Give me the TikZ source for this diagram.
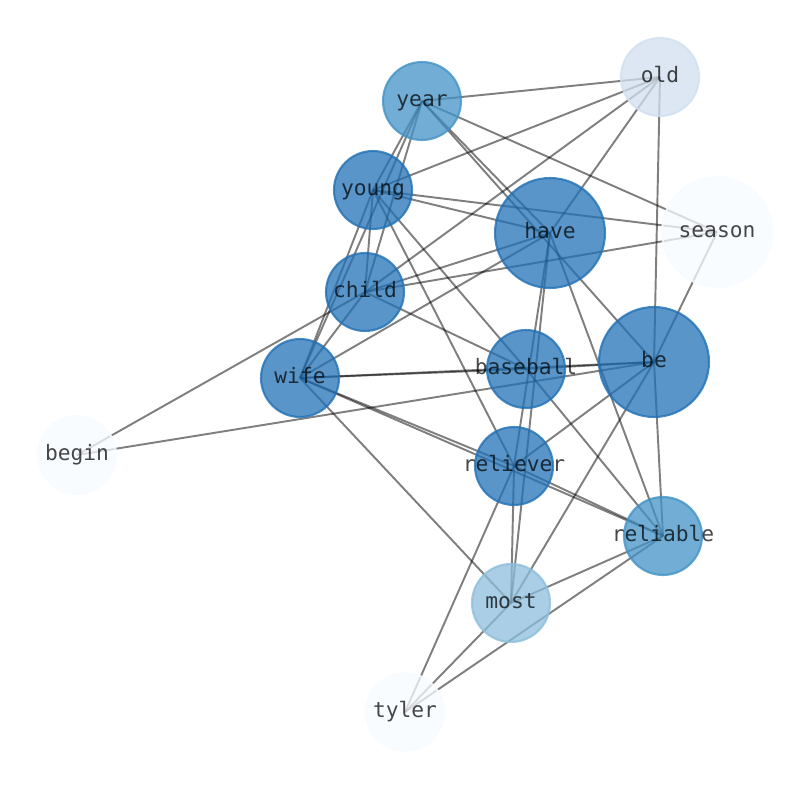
\documentclass[tikz,border=0pt]{standalone}
\usepackage{fontspec}
\setmonofont{DejaVu Sans Mono}
\usetikzlibrary{backgrounds}

\definecolor{darkBlue}{RGB}{33,113,181}
\definecolor{midBlue}{RGB}{66,146,198}
\definecolor{lightBlue}{RGB}{140,190,220}
\definecolor{paleBlue}{RGB}{208,223,239}
\definecolor{whiteBlue}{RGB}{247,251,255}

\tikzset{
  word/.style={circle, draw=#1, fill=#1, draw opacity=0.8, fill opacity=0.75,
    text=black, text opacity=0.72, line width=1.2pt, inner sep=0pt,
    minimum size=1.56cm, text height=0.84em, text depth=0.24em,
    execute at begin node={\hbox to 0pt\bgroup\hss},
    execute at end node={\hss\egroup},
    font=\ttfamily\fontsize{12.1}{14}\selectfont},
  bigword/.style={word=#1, minimum size=2.2cm},
  link/.style={draw=black, draw opacity=0.5, line width=1.1pt}
}

\begin{document}
\begin{tikzpicture}[x=0.02cm, y=-0.02cm]
  \useasboundingbox (0,0) rectangle (794,790);
  % Words
  \node[word=midBlue] (year) at (422,101) {year};
  \node[word=paleBlue] (old) at (660,77) {old};
  \node[word=darkBlue] (young) at (373,190) {young};
  \node[bigword=darkBlue] (have) at (550,233) {have};
  \node[bigword=whiteBlue] (season) at (717,232) {season};
  \node[word=darkBlue] (child) at (365,292) {child};
  \node[word=darkBlue] (baseball) at (526,369) {baseball};
  \node[bigword=darkBlue] (be) at (654,362) {be};
  \node[word=darkBlue] (wife) at (300,378) {wife};
  \node[word=whiteBlue] (begin) at (77,455) {begin};
  \node[word=darkBlue] (reliever) at (514,466) {reliever};
  \node[word=midBlue] (reliable) at (663,536) {reliable};
  \node[word=lightBlue] (most) at (511,603) {most};
  \node[word=whiteBlue] (tyler) at (405,712) {tyler};
  % Links
  \begin{scope}[on background layer]
    \draw[link] (year.center) -- (old.center);
    \draw[link] (year.center) -- (season.center);
    \draw[link] (year.center) -- (have.center);
    \draw[link] (year.center) -- (be.center);
    \draw[link] (year.center) -- (young.center);
    \draw[link] (year.center) -- (child.center);
    \draw[link] (year.center) -- (wife.center);
    \draw[link] (old.center) -- (young.center);
    \draw[link] (old.center) -- (child.center);
    \draw[link] (old.center) -- (have.center);
    \draw[link] (old.center) -- (be.center);
    \draw[link] (season.center) -- (young.center);
    \draw[link] (season.center) -- (child.center);
    \draw[link] (season.center) -- (be.center);
    \draw[link] (young.center) -- (have.center);
    \draw[link] (young.center) -- (child.center);
    \draw[link] (young.center) -- (wife.center);
    \draw[link] (young.center) -- (baseball.center);
    \draw[link] (young.center) -- (reliever.center);
    \draw[link] (have.center) -- (child.center);
    \draw[link] (have.center) -- (wife.center);
    \draw[link] (have.center) -- (reliever.center);
    \draw[link] (have.center) -- (most.center);
    \draw[link] (have.center) -- (reliable.center);
    \draw[link] (child.center) -- (wife.center);
    \draw[link] (child.center) -- (baseball.center);
    \draw[link] (child.center) -- (begin.center);
    \draw[link] (wife.center) -- (be.center);
    \draw[link] (wife.center) -- (baseball.center);
    \draw[link] (wife.center) -- (reliever.center);
    \draw[link] (wife.center) -- (reliable.center);
    \draw[link] (wife.center) -- (most.center);
    \draw[link] (baseball.center) -- (be.center);
    \draw[link] (baseball.center) -- (reliable.center);
    \draw[link] (be.center) -- (begin.center);
    \draw[link] (be.center) -- (reliever.center);
    \draw[link] (be.center) -- (most.center);
    \draw[link] (be.center) -- (reliable.center);
    \draw[link] (reliever.center) -- (reliable.center);
    \draw[link] (reliever.center) -- (most.center);
    \draw[link] (reliever.center) -- (tyler.center);
    \draw[link] (reliable.center) -- (most.center);
    \draw[link] (reliable.center) -- (tyler.center);
    \draw[link] (most.center) -- (tyler.center);
  \end{scope}
\end{tikzpicture}
\end{document}
